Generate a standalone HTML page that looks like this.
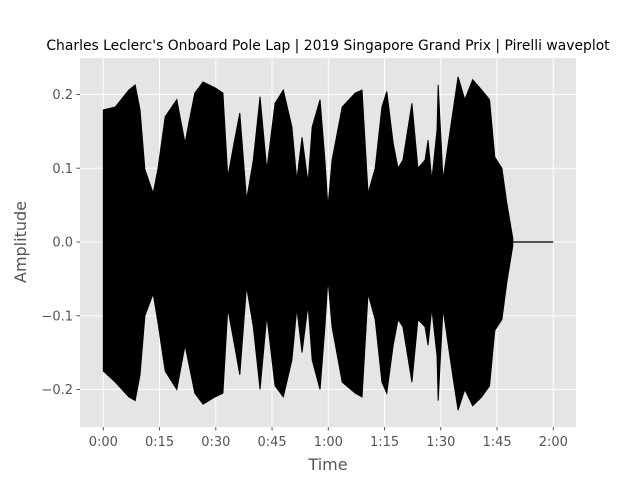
<!DOCTYPE html>
<html><head><meta charset="utf-8"><style>
body{margin:0;background:#fff;font-family:"DejaVu Sans","Liberation Sans",sans-serif;}
</style></head><body>
<svg id="chart" width="640" height="480" xmlns="http://www.w3.org/2000/svg" font-family="DejaVu Sans, Liberation Sans, sans-serif">
<rect width="640" height="480" fill="#fff"/>
<text x="328" y="50" text-anchor="middle" font-size="13.9" fill="#000">Charles Leclerc's Onboard Pole Lap | 2019 Singapore Grand Prix | Pirelli waveplot</text>
<rect x="80" y="58" width="496" height="369" fill="#e5e5e5"/>
<g id="grid"></g>
<g id="wave"></g>
<g id="ticks"></g>
<text x="328" y="470" text-anchor="middle" font-size="16" fill="#555">Time</text>
<text transform="translate(26,242) rotate(-90)" text-anchor="middle" font-size="16" fill="#555">Amplitude</text>
</svg>
<script>
const times=[0,3.2,6.8,8.5,9.8,11.1,13.3,14.6,16.5,19.6,21.8,22.6,24.4,26.6,29.8,31.9,33.2,35,36.4,38.2,40,41.8,43.6,45.8,48,50.3,51.6,53,54.6,55.7,57.8,59.1,59.9,61,63.7,67.2,69,70.6,72.5,74.3,75.6,77.3,78.6,79.9,82.3,83.9,85.8,86.6,87.6,89,89.3,90.6,92,93.3,94.6,96.4,98.5,100.9,103,104.4,106.3,107.6,109.2];
const topAmp=[0.179,0.183,0.206,0.213,0.179,0.098,0.066,0.10,0.17,0.193,0.134,0.156,0.202,0.217,0.209,0.202,0.088,0.138,0.175,0.057,0.111,0.197,0.098,0.188,0.206,0.156,0.084,0.142,0.08,0.156,0.193,0.111,0.047,0.111,0.183,0.202,0.206,0.066,0.10,0.183,0.204,0.134,0.10,0.111,0.188,0.10,0.111,0.138,0.084,0.152,0.213,0.084,0.134,0.179,0.224,0.193,0.22,0.206,0.193,0.115,0.10,0.053,0.005];
const botAmp=[-0.175,-0.19,-0.21,-0.215,-0.18,-0.10,-0.07,-0.11,-0.175,-0.2,-0.14,-0.16,-0.205,-0.22,-0.21,-0.205,-0.09,-0.14,-0.18,-0.06,-0.115,-0.2,-0.10,-0.195,-0.21,-0.16,-0.09,-0.15,-0.085,-0.16,-0.2,-0.115,-0.05,-0.115,-0.19,-0.205,-0.21,-0.07,-0.105,-0.19,-0.205,-0.14,-0.105,-0.115,-0.19,-0.105,-0.115,-0.14,-0.09,-0.155,-0.215,-0.09,-0.14,-0.185,-0.228,-0.2,-0.222,-0.21,-0.195,-0.12,-0.105,-0.055,-0.005];
const endTime=120;
const xTicks=[0,15,30,45,60,75,90,105,120];
const xTickLabels=["0:00","0:15","0:30","0:45","1:00","1:15","1:30","1:45","2:00"];
const yTicks=[0.2,0.1,0,-0.1,-0.2];
const yTickLabels=["0.2","0.1","0.0","\u22120.1","\u22120.2"];
const NS="http://www.w3.org/2000/svg";
function X(t){return 103.3+t*3.75;}
function Y(a){return 242-a*737.5;}
function mk(tag,attrs,parent){const e=document.createElementNS(NS,tag);for(const k in attrs)e.setAttribute(k,attrs[k]);document.getElementById(parent).appendChild(e);return e;}
xTicks.forEach((t,i)=>{
  const g=mk('line',{x1:X(t),x2:X(t),y1:58,y2:427,stroke:'#fff','stroke-width':1},'grid');
  
  
  const tk=mk('line',{x1:X(t),x2:X(t),y1:427,y2:430.5,stroke:'#555'},'ticks');
  
  
  const l=mk('text',{x:X(t),y:446,'text-anchor':'middle','font-size':13,fill:'#555'},'ticks');
  l.textContent=xTickLabels[i];
  
  
});
yTicks.forEach((a,i)=>{
  const g=mk('line',{x1:80,x2:576,y1:Y(a),y2:Y(a),stroke:'#fff','stroke-width':1},'grid');
  
  
  const tk=mk('line',{x1:76.5,x2:80,y1:Y(a),y2:Y(a),stroke:'#555'},'ticks');
  
  
  const l=mk('text',{x:73,y:Y(a)+4.5,'text-anchor':'end','font-size':13,fill:'#555'},'ticks');
  l.textContent=yTickLabels[i];
  
  
});
let pts=[];
times.forEach((t,i)=>pts.push(X(t)+','+Y(topAmp[i])));
for(let i=times.length-1;i>=0;i--)pts.push(X(times[i])+','+Y(botAmp[i]));
const poly=mk('polygon',{points:pts.join(' '),fill:'#000',stroke:'#000','stroke-width':1,'stroke-linejoin':'miter'},'wave');


const flat=mk('line',{x1:X(times[times.length-1]),x2:X(endTime),y1:Y(0),y2:Y(0),stroke:'#000','stroke-width':1.2},'wave');


</script>
</body></html>
